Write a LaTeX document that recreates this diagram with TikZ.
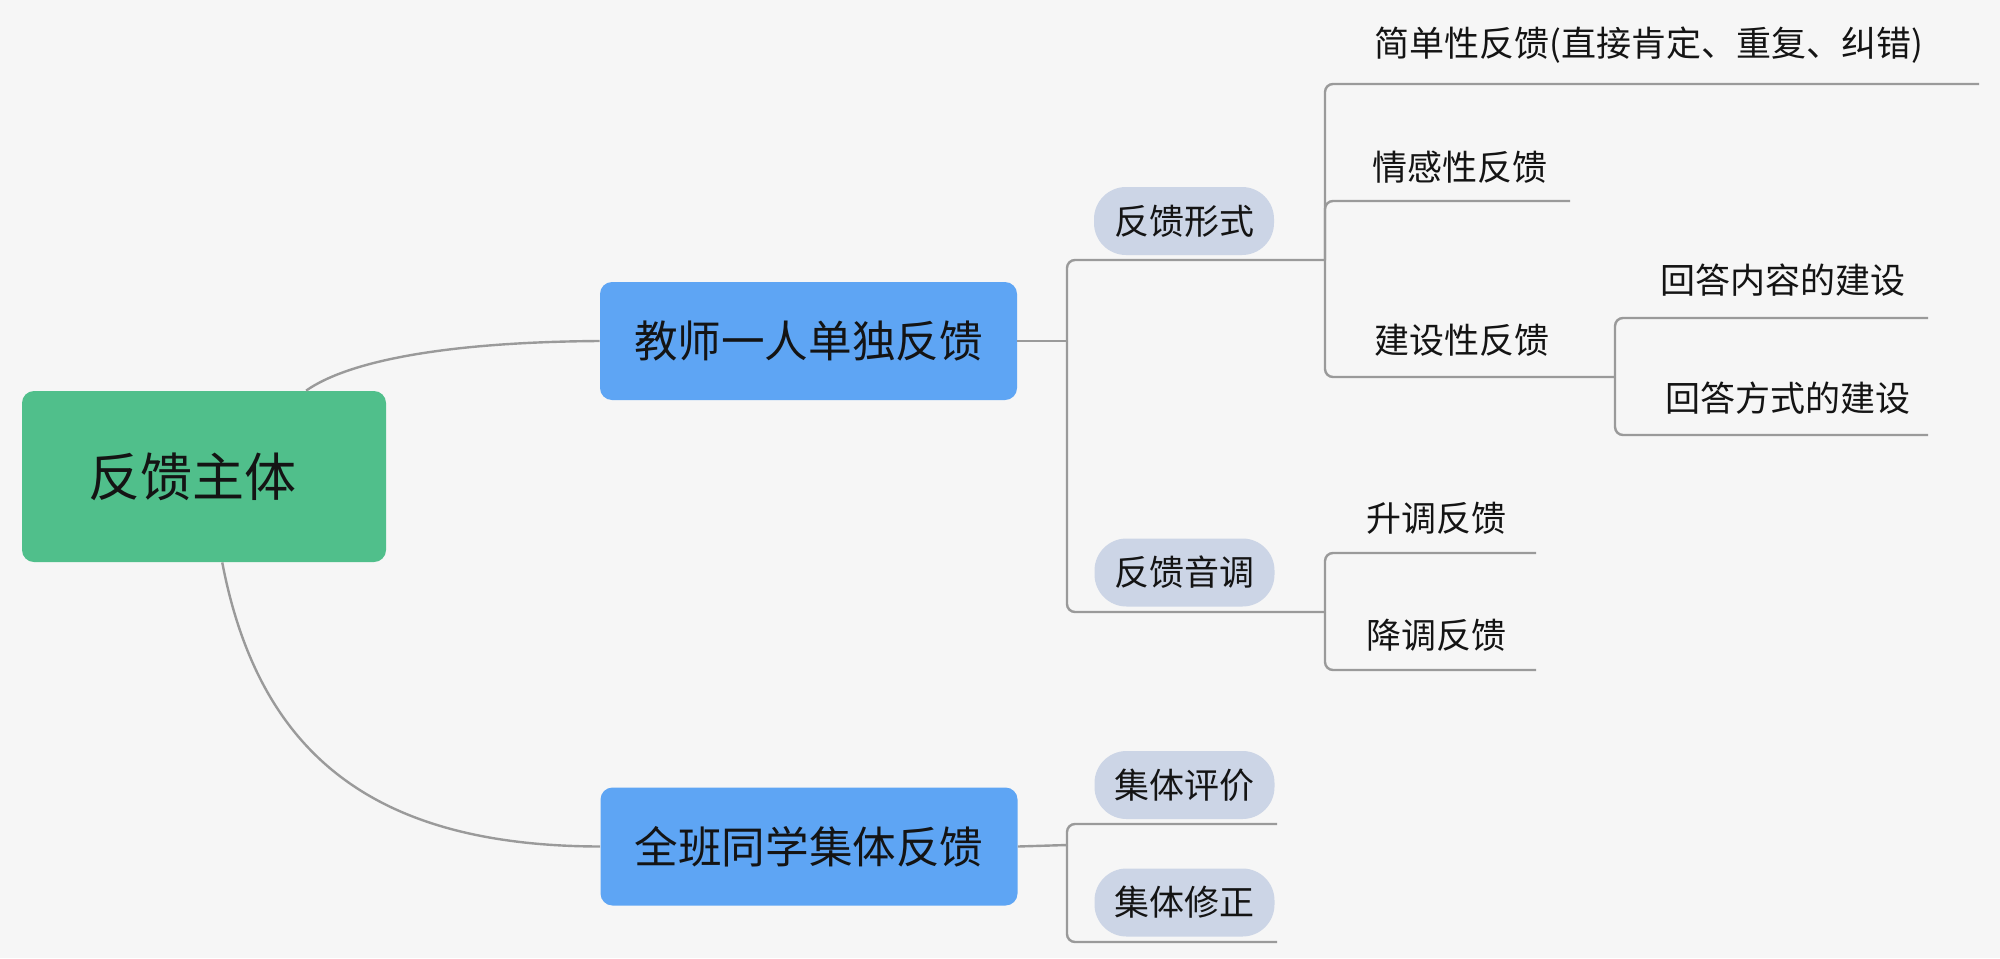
\documentclass[tikz,border=0pt]{standalone}
\usepackage{fontspec}
\setmainfont{Noto Sans CJK SC}
\usetikzlibrary{calc}
\definecolor{bg}{HTML}{F6F6F6}
\definecolor{rootc}{HTML}{50BF8B}
\definecolor{bluec}{HTML}{5EA5F4}
\definecolor{pillc}{HTML}{CCD5E6}
\definecolor{linec}{HTML}{9A9A9A}
\definecolor{txt}{HTML}{141414}
\begin{document}
\begin{tikzpicture}[x=0.5pt,y=-0.5pt,
  rootbox/.style={fill=rootc, rounded corners=6pt, minimum width=182pt, minimum height=85.5pt, inner sep=0pt, text=txt, font=\fontsize{26}{30}\selectfont},
  bluebox/.style={fill=bluec, rounded corners=6pt, minimum width=208.5pt, minimum height=59pt, inner sep=0pt, text=txt, font=\fontsize{21.8}{26}\selectfont},
  pill/.style={fill=pillc, rounded corners=16pt, minimum width=90pt, minimum height=34pt, inner sep=0pt, text=txt, font=\fontsize{17.5}{20}\selectfont},
  leaf/.style={inner sep=0pt, text=txt, font=\fontsize{17.5}{20}\selectfont},
  conn/.style={draw=linec, line width=1.2pt, rounded corners=4pt}]
\fill[bg] (0,0) rectangle (2000,958);
\useasboundingbox (0,0) rectangle (2000,958);

% main nodes
\node[rootbox] (root) at (204,476.5) {\hspace*{-12pt}\raisebox{-2pt}{反馈主体}};
\node[bluebox] (b1) at (808.5,341) {教师一人单独反馈};
\node[bluebox] (b2) at (809,846.5) {全班同学集体反馈};

% second level
\node[pill] (p1) at (1184,221) {反馈形式};
\node[pill] (p2) at (1184.5,572.5) {反馈音调};
\node[pill] (p3) at (1184.5,785) {集体评价};
\node[pill] (p4) at (1184.5,902.5) {集体修正};

% leaves
\node[leaf] (s1) at (1649,45) {简单性反馈(直接肯定、重复、纠错)};
\node[leaf] (s2) at (1460,167) {情感性反馈};
\node[leaf] (s3) at (1462,340) {建设性反馈};
\node[leaf] (s31) at (1783,280) {回答内容的建设};
\node[leaf] (s32) at (1788,398) {回答方式的建设};
\node[leaf] (t1) at (1436,518) {升调反馈};
\node[leaf] (t2) at (1436,635) {降调反馈};

% junctions and underline ends
\coordinate (rA) at ($(root.north west)!0.78!(root.north east)$);
\coordinate (rB) at ($(root.south west)!0.55!(root.south east)$);
\coordinate (j1) at (1067,341);
\coordinate (k1) at (1325,260);
\coordinate (k2) at (1325,612);
\coordinate (k3) at (1615,377);
\coordinate (e11) at (1979,84);
\coordinate (e12) at (1570,201);
\coordinate (e31) at (1928,318);
\coordinate (e32) at (1928,435);
\coordinate (e21) at (1536,553);
\coordinate (e22) at (1536,670);
\coordinate (j2) at (1067,845);
\coordinate (e41) at (1277,824);
\coordinate (e42) at (1277,942);

% connectors
\draw[conn] (rA) .. controls (350,360) and (450,342) .. (b1.west);
\draw[conn] (rB) .. controls (260,760) and (380,846) .. (b2.west);
\draw[conn] (b1.east) -- (j1);
\draw[conn] (j1) |- (k1);
\draw[conn] (j1) |- (k2);
\draw[conn] (k1) |- (e11);
\draw[conn] (k1) |- (e12);
\draw[conn] (k1) |- (k3);
\draw[conn] (k3) |- (e31);
\draw[conn] (k3) |- (e32);
\draw[conn] (k2) |- (e21);
\draw[conn] (k2) |- (e22);
\draw[conn] (b2.east) -- (j2);
\draw[conn] (j2) |- (e41);
\draw[conn] (j2) |- (e42);
\end{tikzpicture}
\end{document}
